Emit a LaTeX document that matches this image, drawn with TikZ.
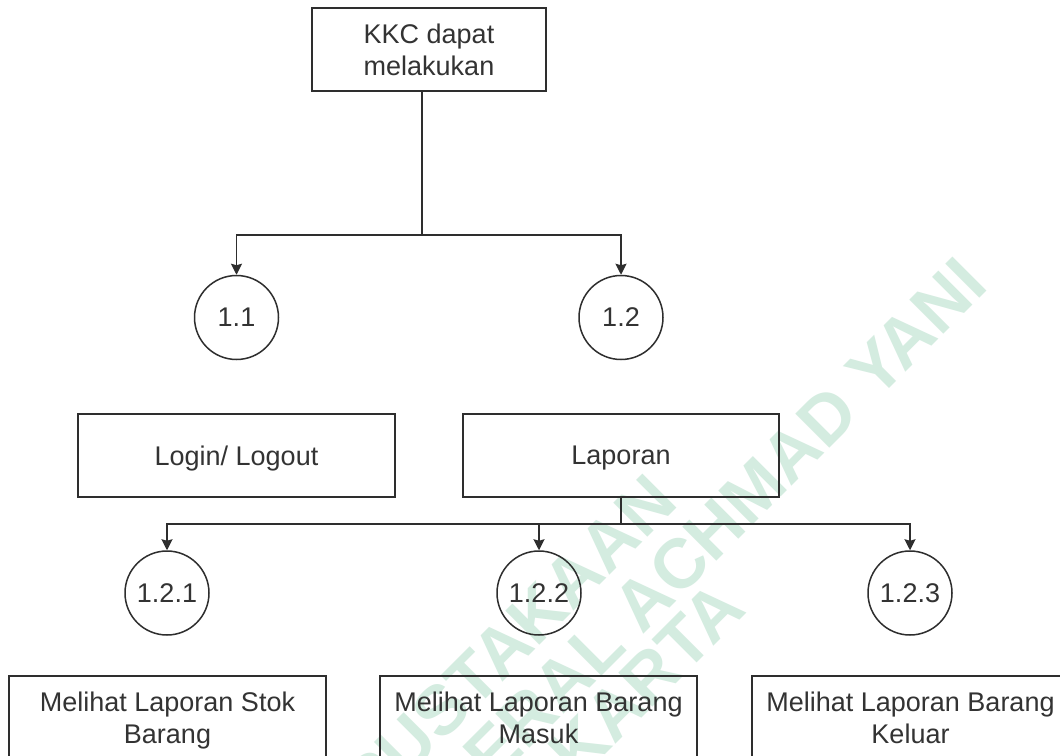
\documentclass[tikz,border=0pt]{standalone}
\usepackage{fontspec}
\setmainfont{Liberation Sans}
\newfontfamily\wmfont{Liberation Sans Bold}
\usetikzlibrary{arrows.meta}
\definecolor{ink}{HTML}{2E2E2E}
\definecolor{txt}{HTML}{333333}
\definecolor{wmark}{RGB}{212,236,224}
\tikzset{
  lbl/.style={font=\fontsize{27}{31.5}\selectfont, text=txt, align=center, inner sep=0pt},
  box/.style={lbl, draw=ink, line width=1.6pt, rectangle, text depth=0pt},
  proc/.style={lbl, draw=ink, line width=1.5pt, circle, minimum size=84pt},
  link/.style={draw=ink, line width=1.5pt},
  arr/.style={link, -{Stealth[length=11pt,width=11pt,inset=1.5pt]}},
  wm/.style={font=\wmfont\fontsize{70}{80}\selectfont, text=wmark, rotate=45, anchor=base east, inner sep=0pt}
}
\begin{document}
\begin{tikzpicture}[x=1pt, y=-1pt]
\useasboundingbox (0,0) rectangle (1060,755);
\clip (0,0) rectangle (1060,755);
\fill[white] (0,0) rectangle (1060,755);

% library watermark, behind the chart
\node[wm] (w1) at (680,505) {PUSTAKAAN};
\node[wm] (w2) at (990,288) {DERAL ACHMAD YANI};
\node[wm] (w3) at (748,612) {KARTA};

% top level
\node[box, minimum width=234pt, minimum height=83pt] (top) at (429,49.5) {KKC dapat\\melakukan};

% level 1 processes
\node[proc] (c11) at (236.5,317.5) {1.1};
\node[proc] (c12) at (621,317.5) {1.2};
\node[box, minimum width=317pt, minimum height=83pt] (login) at (236.5,455.5) {Login/ Logout};
\node[box, minimum width=316pt, minimum height=83pt] (lap) at (621,455.5) {Laporan};

% level 2 processes
\node[proc] (c121) at (167,593) {1.2.1};
\node[proc] (c122) at (539,593) {1.2.2};
\node[proc] (c123) at (910,593) {1.2.3};
\node[box, minimum width=317pt, minimum height=83pt] (stok) at (167.5,717.5) {Melihat Laporan Stok\\Barang};
\node[box, minimum width=317pt, minimum height=83pt] (masuk) at (538.5,717.5) {Melihat Laporan Barang\\Masuk};
\node[box, minimum width=317pt, minimum height=83pt] (keluar) at (910.5,717.5) {Melihat Laporan Barang\\Keluar};

% connectors
\coordinate (j1) at (422,235);
\draw[link] (j1 |- top.south) -- (j1);
\draw[arr] (j1) -| (c11.north);
\draw[arr] (j1) -| (c12.north);

\coordinate (j2) at (621,524);
\draw[link] (lap.south) -- (j2);
\draw[arr] (j2) -| (c121.north);
\draw[arr] (j2) -| (c122.north);
\draw[arr] (j2) -| (c123.north);
\end{tikzpicture}
\end{document}
